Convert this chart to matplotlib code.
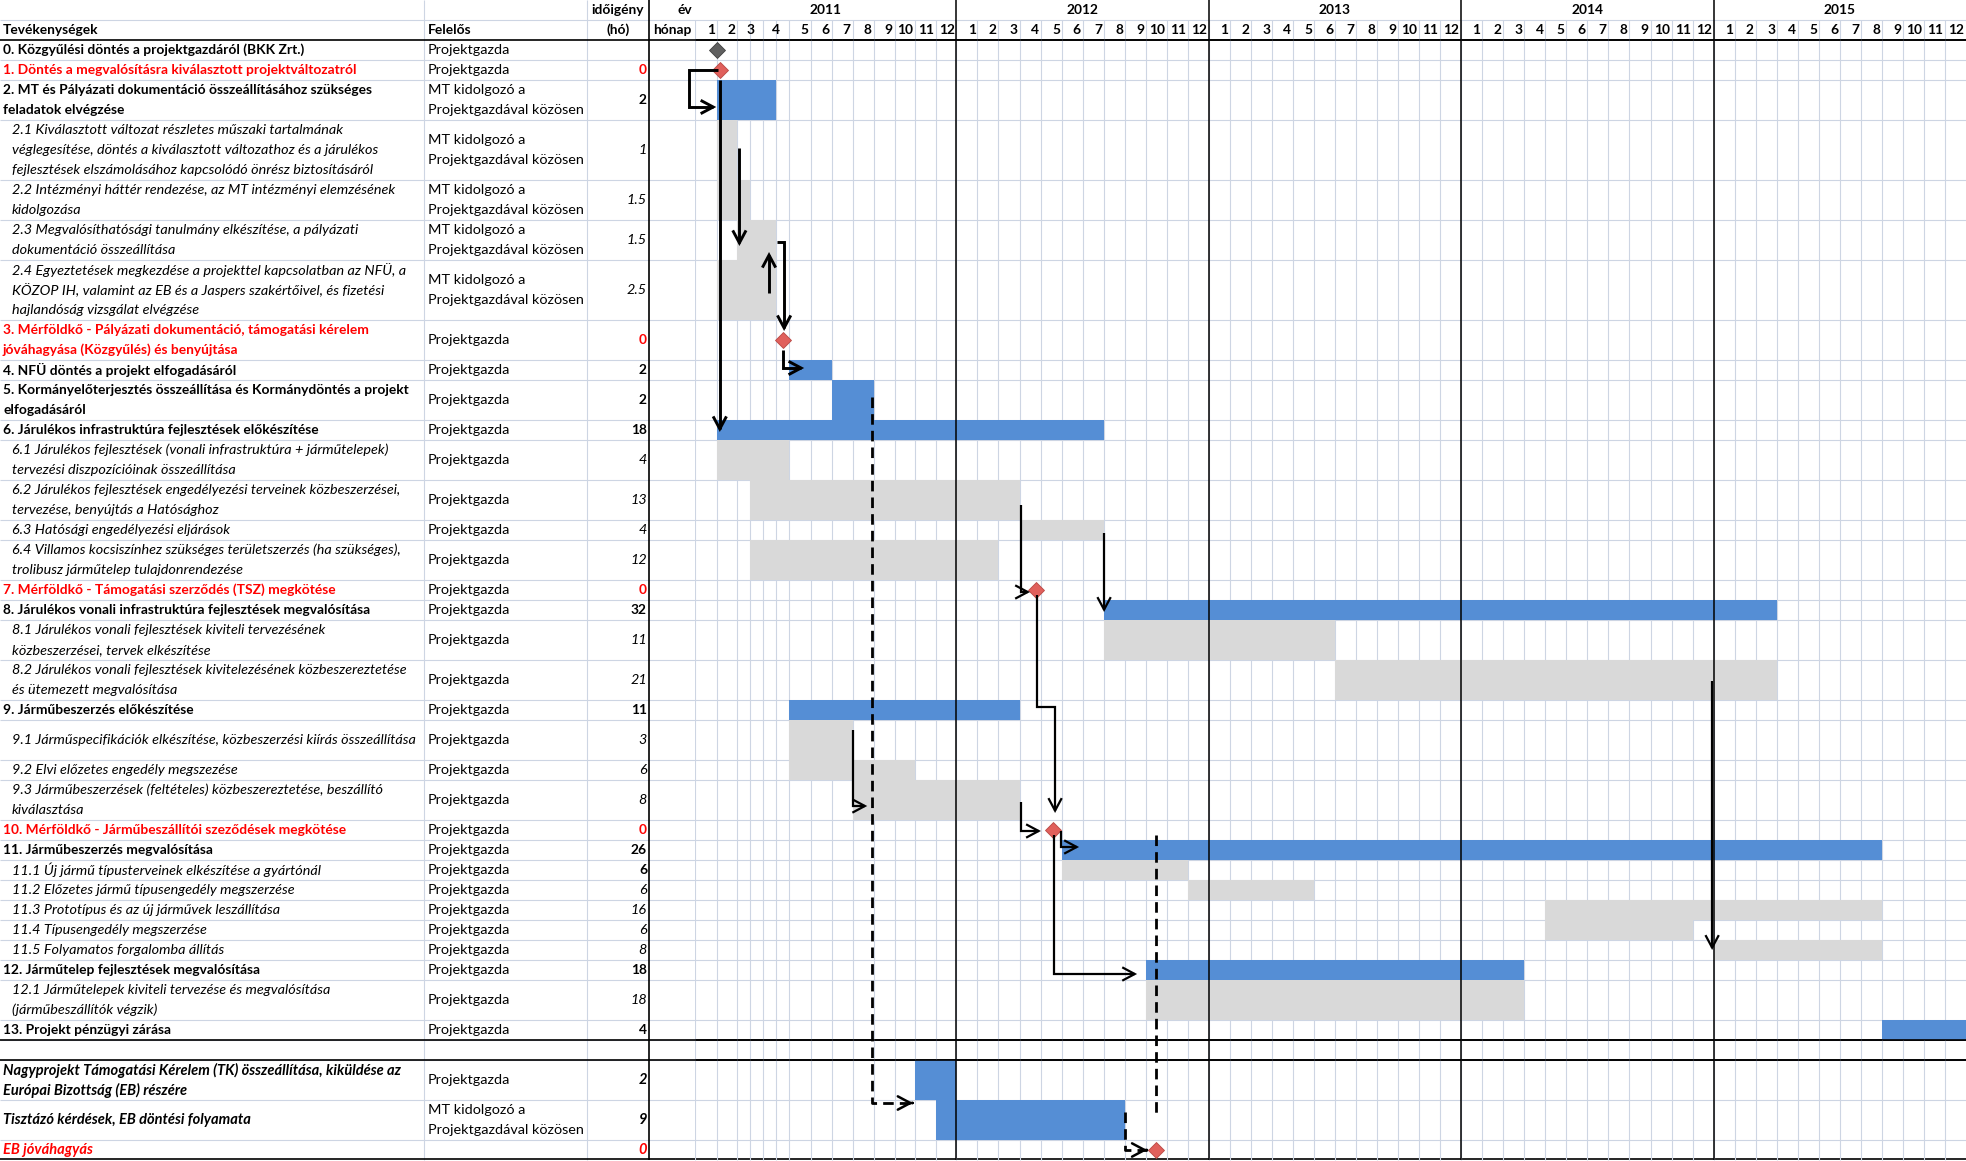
import numpy as np
import matplotlib.pyplot as plt
from matplotlib.patches import FancyArrowPatch
from matplotlib.path import Path

plt.rcParams['font.family'] = ['Lato', 'DejaVu Sans']

# ---------------- table data ----------------
activities = [
    "0. Közgyűlési döntés a projektgazdáról (BKK Zrt.)",
    "1. Döntés a megvalósításra kiválasztott projektváltozatról",
    "2. MT és Pályázati dokumentáció összeállításához szükséges\nfeladatok elvégzése",
    "2.1 Kiválasztott változat részletes műszaki tartalmának\nvéglegesítése, döntés a kiválasztott változathoz és a járulékos\nfejlesztések elszámolásához kapcsolódó önrész biztosításáról",
    "2.2 Intézményi háttér rendezése, az MT intézményi elemzésének\nkidolgozása",
    "2.3 Megvalósíthatósági tanulmány elkészítése, a pályázati\ndokumentáció összeállítása",
    "2.4 Egyeztetések megkezdése a projekttel kapcsolatban az NFÜ, a\nKÖZOP IH, valamint az EB és a Jaspers szakértőivel, és fizetési\nhajlandóság vizsgálat elvégzése",
    "3. Mérföldkő - Pályázati dokumentáció, támogatási kérelem\njóváhagyása (Közgyűlés) és benyújtása",
    "4. NFÜ döntés a projekt elfogadásáról",
    "5. Kormányelőterjesztés összeállítása és Kormánydöntés a projekt\nelfogadásáról",
    "6. Járulékos infrastruktúra fejlesztések előkészítése",
    "6.1 Járulékos fejlesztések (vonali infrastruktúra + járműtelepek)\ntervezési diszpozícióinak összeállítása",
    "6.2 Járulékos fejlesztések engedélyezési terveinek közbeszerzései,\ntervezése, benyújtás a Hatósághoz",
    "6.3 Hatósági engedélyezési eljárások",
    "6.4 Villamos kocsiszínhez szükséges területszerzés (ha szükséges),\ntrolibusz járműtelep tulajdonrendezése",
    "7. Mérföldkő - Támogatási szerződés (TSZ) megkötése",
    "8. Járulékos vonali infrastruktúra fejlesztések megvalósítása",
    "8.1 Járulékos vonali fejlesztések kiviteli tervezésének\nközbeszerzései, tervek elkészítése",
    "8.2 Járulékos vonali fejlesztések kivitelezésének közbeszereztetése\nés ütemezett megvalósítása",
    "9. Járműbeszerzés előkészítése",
    "9.1 Járműspecifikációk elkészítése, közbeszerzési kiírás összeállítása",
    "9.2 Elvi előzetes engedély megszezése",
    "9.3 Járműbeszerzések (feltételes) közbeszereztetése, beszállító\nkiválasztása",
    "10. Mérföldkő - Járműbeszállítói szeződések megkötése",
    "11. Járműbeszerzés megvalósítása",
    "11.1 Új jármű típusterveinek elkészítése a gyártónál",
    "11.2 Előzetes jármű típusengedély megszerzése",
    "11.3 Prototípus és az új járművek leszállítása",
    "11.4 Típusengedély megszerzése",
    "11.5 Folyamatos forgalomba állítás",
    "12. Járműtelep fejlesztések megvalósítása",
    "12.1 Járműtelepek kiviteli tervezése és megvalósítása\n(járműbeszállítók végzik)",
    "13. Projekt pénzügyi zárása",
    "",
    "Nagyprojekt Támogatási Kérelem (TK) összeállítása, kiküldése az\nEurópai Bizottság (EB) részére",
    "Tisztázó kérdések, EB döntési folyamata",
    "EB jóváhagyás",
]
MT = "MT kidolgozó a\nProjektgazdával közösen"
PG = "Projektgazda"
responsible = [PG, PG, MT, MT, MT, MT, MT, PG, PG, PG, PG, PG, PG, PG, PG, PG,
               PG, PG, PG, PG, PG, PG, PG, PG, PG, PG, PG, PG, PG, PG, PG, PG,
               PG, "", PG, MT, ""]
durations = ["", "0", "2", "1", "1.5", "1.5", "2.5", "0", "2", "2", "18", "4",
             "13", "4", "12", "0", "32", "11", "21", "11", "3", "6", "8", "0",
             "26", "6", "6", "16", "6", "8", "18", "18", "4", "", "2", "9", "0"]
row_style = ["b", "r", "b", "i", "i", "i", "i", "r", "b", "b", "b", "i", "i",
             "i", "i", "r", "b", "i", "i", "b", "i", "i", "i", "r", "b", "i",
             "i", "i", "i", "i", "b", "i", "b", "b", "bi", "bi", "ri"]
dur_style = ["b", "r", "b", "i", "i", "i", "i", "r", "b", "b", "b", "i", "i",
             "i", "i", "r", "b", "i", "i", "b", "i", "i", "i", "r", "b", "b",
             "i", "i", "i", "i", "b", "i", "b", "b", "bi", "bi", "ri"]
row_units = [1, 1, 2, 3, 2, 2, 3, 2, 1, 2, 1, 2, 2, 1, 2, 1, 1, 2, 2, 1, 2, 1,
             2, 1, 1, 1, 1, 1, 1, 1, 1, 2, 1, 1, 2, 2, 1]

years = [2011, 2012, 2013, 2014, 2015]

# ---------------- schedule data (months from Jan 2011 = 0) ----------------
blue_rows = [2, 8, 9, 10, 16, 19, 24, 30, 32, 34, 35]
blue_start = [1, 4, 6, 1, 19, 4, 17, 21, 56, 10, 11]
blue_end = [3.5, 6, 8, 19, 51, 15, 56, 39, 60, 12, 20]

grey_rows = [3, 4, 5, 6, 11, 12, 13, 14, 17, 18, 20, 21, 22, 25, 26, 27, 28, 29, 31]
grey_start = [1, 1, 2, 1, 1, 2.5, 15, 2.5, 19, 30, 4, 4, 7, 17, 23, 40, 40, 48, 21]
grey_end = [2, 2.5, 3.5, 3.5, 4, 15, 19, 14, 30, 51, 7, 10, 15, 23, 29, 56, 47, 56, 39]

ms_rows = [0, 1, 7, 15, 23, 36]
ms_month = [1.0, 1.15, 3.76, 15.8, 16.6, 21.5]
ms_color = ["#606060", "#E0605C", "#E0605C", "#E0605C", "#E0605C", "#E0605C"]

# dependency arrows: (month, row unit from top) vertices
links_thick = [
    [(1.05, 3.5), (-0.28, 3.5), (-0.28, 5.35), (0.98, 5.35)],
    [(1.15, 4.0), (1.15, 21.6)],
    [(2.08, 7.4), (2.08, 12.3)],
    [(3.22, 14.65), (3.22, 12.6)],
    [(3.53, 12.1), (3.8, 12.1), (3.8, 16.55)],
    [(3.76, 17.5), (3.76, 18.4), (4.7, 18.4)],
]
links_thin = [
    [(7.02, 36.5), (7.02, 40.3), (7.7, 40.3)],
    [(15.07, 25.25), (15.07, 29.6), (15.5, 29.6)],
    [(19.02, 26.65), (19.02, 30.6)],
    [(15.83, 29.75), (15.83, 35.35), (16.69, 35.35), (16.69, 40.65)],
    [(15.07, 40.1), (15.07, 41.55), (16.02, 41.55)],
    [(16.97, 41.55), (16.97, 42.35), (17.83, 42.35)],
    [(16.64, 41.75), (16.64, 48.7), (20.59, 48.7)],
    [(47.93, 34.05), (47.93, 47.5)],
]
links_dashed = [
    [(7.93, 19.85), (7.93, 55.15), (9.89, 55.15)],
    [(21.5, 41.75), (21.5, 55.65)],
    [(20.02, 55.6), (20.02, 57.5), (21.07, 57.5)],
]
dashed_has_head = [True, False, True]

# ---------------- layout ----------------
W, H = 1966, 1161
U = 20.0
total_units = H / U
header_units = 2
x_resp, x_dur, x_year, x_grid = 424, 587, 649, 695
month_w = [21.7, 20.6, 26, 26, 21.2, 21, 21, 21, 21, 20.7, 20.5, 20.7] + [21.03] * 48
split_months = [2, 3]

BLUE = "#558ED5"
GREY = "#D9D9D9"
GRID = "#CDD5E3"
RED = "#FF0000"
FS_B = 9.9    # bold text
FS_R = 10.4   # regular / italic text
FS_BI = 10.5  # bold italic text

styles = {
    "b": dict(fontweight="bold", fontstyle="normal", color="black", fontsize=FS_B),
    "r": dict(fontweight="bold", fontstyle="normal", color=RED, fontsize=FS_B),
    "i": dict(fontweight="normal", fontstyle="italic", color="black", fontsize=FS_R),
    "bi": dict(fontweight="bold", fontstyle="italic", color="black", fontsize=FS_BI),
    "ri": dict(fontweight="bold", fontstyle="italic", color=RED, fontsize=FS_BI),
}

tops = header_units + np.concatenate([[0], np.cumsum(row_units)[:-1]])
bottoms = tops + np.array(row_units)
end_units = bottoms[-1]

fig = plt.figure(figsize=(W / 100, H / 100), dpi=100)

tab = fig.add_axes([0, 0, 1, 1])
tab.set_xlim(0, W)
tab.set_ylim(total_units, 0)
tab.axis('off')

gantt = fig.add_axes([x_grid / W, 0, 1 - x_grid / W, 1])
edges_px = x_grid + np.concatenate([[0], np.cumsum(month_w)])
ext_m = np.concatenate([[-30], np.arange(len(edges_px)), [90]])
ext_px = np.concatenate([[edges_px[0] - 30 * month_w[0]], edges_px,
                         [edges_px[-1] + 30 * month_w[-1]]])


def fwd(m):
    return np.interp(m, ext_m, ext_px)


def inv(p):
    return np.interp(p, ext_px, ext_m)


gantt.set_xscale('function', functions=(fwd, inv))
gantt.set_xlim(0, 60)
gantt.set_ylim(total_units, 0)
gantt.axis('off')

# ---------------- table grid ----------------
hlines = np.concatenate([[1], bottoms[:-1]])
tab.hlines(hlines, 0, W, color=GRID, lw=0.8, zorder=1)
tab.vlines([x_resp, x_dur], 0, end_units, color=GRID, lw=0.8, zorder=1)
tab.vlines([x_year], 0, end_units, color="black", lw=1.2, zorder=3)
tab.hlines([header_units, bottoms[32], bottoms[33], end_units - 0.03], 0, W,
           color="black", lw=1.2, zorder=3)

# header texts
hb = dict(fontsize=FS_B, fontweight="bold", va="center")
tab.text(3, 1.5, "Tevékenységek", **hb)
tab.text(x_resp + 4, 1.5, "Felelős", **hb)
tab.text((x_dur + x_year) / 2, 0.5, "időigény", ha="center", **hb)
tab.text((x_dur + x_year) / 2, 1.5, "(hó)", ha="center", **hb)
tab.text(x_grid - 3, 0.5, "év", ha="right", **hb)
tab.text(x_grid - 3, 1.5, "hónap", ha="right", **hb)

# row texts
for i in range(len(activities)):
    n = row_units[i]
    st = styles[row_style[i]]
    if activities[i]:
        lines = activities[i].split("\n")
        xi = 12 if row_style[i] == "i" else 3
        for j, line in enumerate(lines):
            y = tops[i] + (n - len(lines)) / 2 + 0.5 + j
            tab.text(xi, y, line, va="center", ha="left", **st)
    if responsible[i]:
        lines = responsible[i].split("\n")
        for j, line in enumerate(lines):
            y = tops[i] + (n - len(lines)) / 2 + 0.5 + j
            tab.text(x_resp + 4, y, line, fontsize=FS_R, va="center", ha="left")
    if durations[i]:
        tab.text(x_dur + 60, tops[i] + n / 2, durations[i],
                 va="center", ha="right", **styles[dur_style[i]])

# ---------------- gantt grid ----------------
vm = list(range(0, 60)) + [k + 0.5 for k in split_months]
gantt.vlines(vm, 1, end_units, color=GRID, lw=0.8, zorder=1)
gantt.vlines([12, 24, 36, 48], 0, end_units, color="black", lw=1.1, zorder=4)
gantt.hlines([header_units, bottoms[32], bottoms[33]], 0, 60,
             color="black", lw=1.2, zorder=4)

for k, yr in enumerate(years):
    xc = inv((fwd(12 * k) + fwd(12 * k + 12)) / 2)
    gantt.text(xc, 0.5, str(yr), ha="center", **hb)
for k in range(60):
    lab = str(k % 12 + 1)
    if k in split_months:
        gantt.text(k + 0.5, 1.5, lab, ha="center", **hb)
    else:
        gantt.text(k + 0.92, 1.5, lab, ha="right", **hb)

# ---------------- bars ----------------
for r, s, e in zip(grey_rows, grey_start, grey_end):
    gantt.barh(tops[r] + row_units[r] / 2, e - s, left=s, height=row_units[r],
               color=GREY, edgecolor="none", zorder=2)
for r, s, e in zip(blue_rows, blue_start, blue_end):
    gantt.barh(tops[r] + row_units[r] / 2, e - s, left=s, height=row_units[r],
               color=BLUE, edgecolor="none", zorder=2)

for r, m, c in zip(ms_rows, ms_month, ms_color):
    edge = "#404040" if r == 0 else "#B84844"
    gantt.plot([m], [tops[r] + row_units[r] / 2], marker="D", markersize=8,
               color=c, markeredgecolor=edge, markeredgewidth=0.6, zorder=6,
               clip_on=False)

# ---------------- arrows ----------------
head = "->, head_length=0.45, head_width=0.24"
for pts, lw in [(p, 2.1) for p in links_thick] + [(p, 1.6) for p in links_thin]:
    arr = FancyArrowPatch(path=Path(pts), arrowstyle=head, mutation_scale=20,
                          lw=lw, color="black", transform=gantt.transData,
                          zorder=7, clip_on=False, joinstyle="miter",
                          capstyle="butt")
    gantt.add_patch(arr)

for pts, has_head in zip(links_dashed, dashed_has_head):
    xs = [p[0] for p in pts]
    ys = [p[1] for p in pts]
    gantt.plot(xs, ys, color="black", lw=2.0, linestyle=(0, (3.8, 2.2)),
               zorder=7, clip_on=False, solid_capstyle="butt",
               dash_capstyle="butt")
    if has_head:
        x_end, y_end = pts[-1]
        x_prev, y_prev = pts[-2]
        back = 0.02
        xt = x_end - back * np.sign(x_end - x_prev)
        yt = y_end - back * np.sign(y_end - y_prev)
        gantt.annotate("", xy=(x_end, y_end), xytext=(xt, yt),
                       arrowprops=dict(arrowstyle=head, mutation_scale=20,
                                       lw=1.8, color="black",
                                       shrinkA=0, shrinkB=0),
                       zorder=7, annotation_clip=False)

fig.savefig("out.png", dpi=100)
